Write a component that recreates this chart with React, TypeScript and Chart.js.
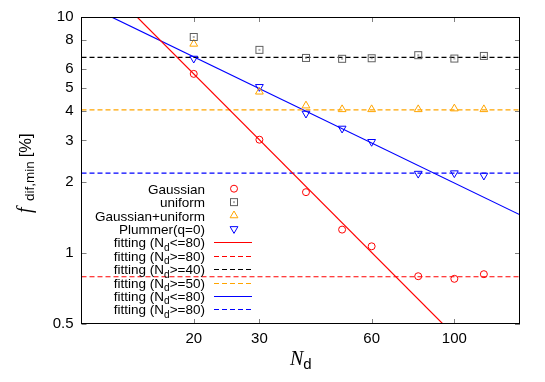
import React, { useEffect, useRef } from "react";
import { Chart, registerables } from "chart.js";

Chart.register(...registerables);

// ---- data ----
const nd = [20, 30, 40, 50, 60, 80, 100, 120];
const gaussian = [5.74, 3.02, 1.81, 1.256, 1.067, 0.797, 0.777, 0.813];
const uniform = [8.23, 7.26, 6.71, 6.65, 6.69, 6.89, 6.67, 6.84];
const gaussUniform = [7.69, 4.82, 4.21, 4.06, 4.06, 4.06, 4.09, 4.06];
const plummer = [6.67, 5.06, 3.9, 3.37, 2.96, 2.17, 2.18, 2.13];

const xTicks = [20, 30, 60, 100];
const yTicks = [0.5, 1, 2, 3, 4, 5, 6, 8, 10];
const xMin = 10;
const xMax = 150;
const yMin = 0.5;
const yMax = 10;

// fit parameters: f = amp * N^exp, or constant
const gaussPowAmp = 663.3;
const gaussPowExp = -1.5856;
const gaussFlat = 0.793;
const uniformFlat = 6.74;
const gaussUniformFlat = 4.04;
const plummerPowAmp = 67.06;
const plummerPowExp = -0.765;
const plummerFlat = 2.18;

const seriesLabels = ["Gaussian", "uniform", "Gaussian+uniform", "Plummer(q=0)"];
const fitLabels = [
  "fitting (N_d<=80)",
  "fitting (N_d>=80)",
  "fitting (N_d>=40)",
  "fitting (N_d>=50)",
  "fitting (N_d<=80)",
  "fitting (N_d>=80)",
];

const RED = "#ff0000";
const GRAY = "#606060";
const BLACK = "#000000";
const ORANGE = "#ffa500";
const BLUE = "#0000ff";
const SANS = "'Liberation Sans', Arial, Helvetica, sans-serif";
const SERIF = "'Liberation Serif', 'Times New Roman', serif";
const DASH = [5, 3];

const pts = (arr: number[]) => nd.map((x, i) => ({ x, y: arr[i] }));
const powLine = (amp: number, exp: number) =>
  [xMin, xMax].map((x) => ({ x, y: amp * Math.pow(x, exp) }));
const flatLine = (c: number) => [xMin, xMax].map((x) => ({ x, y: c }));

function makeSquare(color: string): HTMLCanvasElement {
  const c = document.createElement("canvas");
  c.width = 10;
  c.height = 10;
  const g = c.getContext("2d")!;
  g.strokeStyle = color;
  g.lineWidth = 1;
  g.strokeRect(1.5, 1.5, 7, 7);
  g.fillStyle = color;
  g.globalAlpha = 0.5;
  g.fillRect(4, 4, 2, 2);
  return c;
}

function drawMarker(ctx: CanvasRenderingContext2D, ds: any, x: number, y: number) {
  const style = ds.pointStyle;
  ctx.save();
  ctx.strokeStyle = ds.borderColor;
  ctx.lineWidth = 1;
  if (typeof style !== "string") {
    ctx.drawImage(style, x - style.width / 2, y - style.height / 2);
  } else if (style === "circle") {
    ctx.beginPath();
    ctx.arc(x, y, ds.pointRadius, 0, Math.PI * 2);
    ctx.stroke();
  } else if (style === "triangle") {
    const r = ds.pointRadius;
    let a = ((ds.pointRotation || 0) * Math.PI) / 180;
    ctx.beginPath();
    for (let k = 0; k < 3; k++) {
      const px = x + Math.sin(a) * r;
      const py = y - Math.cos(a) * r;
      if (k === 0) ctx.moveTo(px, py);
      else ctx.lineTo(px, py);
      a += (2 * Math.PI) / 3;
    }
    ctx.closePath();
    ctx.stroke();
  }
  ctx.restore();
}

function drawRich(ctx: CanvasRenderingContext2D, text: string, xRight: number, baseY: number, size: number) {
  const parts = text.split("_d");
  const subSize = size * 0.75;
  ctx.font = `${size}px ${SANS}`;
  const w0 = ctx.measureText(parts[0]).width;
  const w2 = parts.length > 1 ? ctx.measureText(parts[1]).width : 0;
  ctx.font = `${subSize}px ${SANS}`;
  const w1 = parts.length > 1 ? ctx.measureText("d").width : 0;
  let x = xRight - (w0 + w1 + w2);
  ctx.textAlign = "left";
  ctx.textBaseline = "alphabetic";
  ctx.font = `${size}px ${SANS}`;
  ctx.fillText(parts[0], x, baseY);
  if (parts.length > 1) {
    x += w0;
    ctx.font = `${subSize}px ${SANS}`;
    ctx.fillText("d", x, baseY + 3.5);
    x += w1;
    ctx.font = `${size}px ${SANS}`;
    ctx.fillText(parts[1], x, baseY);
  }
}

const decoPlugin = {
  id: "deco",
  afterDraw(chart: any) {
    const ctx: CanvasRenderingContext2D = chart.ctx;
    const a = chart.chartArea;
    const xs = chart.scales.x;
    const ys = chart.scales.y;
    ctx.save();
    // tick marks (inside, mirrored)
    ctx.strokeStyle = "#808080";
    ctx.lineWidth = 1;
    ctx.beginPath();
    for (const v of yTicks) {
      const y = Math.round(ys.getPixelForValue(v)) + 0.5;
      ctx.moveTo(a.left, y);
      ctx.lineTo(a.left + 5, y);
      ctx.moveTo(a.right, y);
      ctx.lineTo(a.right - 5, y);
    }
    for (const v of xTicks) {
      const x = Math.round(xs.getPixelForValue(v)) + 0.5;
      ctx.moveTo(x, a.bottom);
      ctx.lineTo(x, a.bottom - 5);
      ctx.moveTo(x, a.top);
      ctx.lineTo(x, a.top + 5);
    }
    ctx.stroke();
    // frame
    const x0 = Math.floor(a.left) + 0.5;
    const y0 = Math.floor(a.top) + 0.5;
    const x1 = Math.ceil(a.right) - 0.5;
    const y1 = Math.ceil(a.bottom) - 0.5;
    ctx.strokeStyle = BLACK;
    ctx.strokeRect(x0, y0, x1 - x0, y1 - y0);

    // legend
    const rowY0 = 188.7;
    const rowStep = 13.4;
    const textRight = 205;
    const sampleL = 214;
    const sampleR = 252;
    const markX = 234;
    ctx.fillStyle = BLACK;
    chart.data.datasets.forEach((ds: any, i: number) => {
      const y = rowY0 + i * rowStep;
      drawRich(ctx, ds.label, textRight, y + 5, 13.5);
      if (ds.showLine) {
        ctx.save();
        ctx.strokeStyle = ds.borderColor;
        ctx.lineWidth = ds.borderWidth;
        ctx.setLineDash(ds.borderDash || []);
        ctx.beginPath();
        ctx.moveTo(sampleL, Math.round(y) + 0.5);
        ctx.lineTo(sampleR, Math.round(y) + 0.5);
        ctx.stroke();
        ctx.restore();
      } else {
        drawMarker(ctx, ds, markX, y);
      }
    });

    // x title: N_d
    ctx.fillStyle = BLACK;
    ctx.textBaseline = "alphabetic";
    ctx.textAlign = "left";
    ctx.font = `italic 20px ${SERIF}`;
    const wN = ctx.measureText("N").width;
    ctx.font = `15px ${SANS}`;
    const wd = ctx.measureText("d").width;
    const cx = (a.left + a.right) / 2;
    let tx = cx - (wN + wd) / 2;
    ctx.font = `italic 20px ${SERIF}`;
    ctx.fillText("N", tx, 365);
    ctx.font = `15px ${SANS}`;
    ctx.fillText("d", tx + wN, 368.5);

    // y title: f_dif,min [%]
    ctx.save();
    ctx.translate(31, 214);
    ctx.rotate(-Math.PI / 2);
    ctx.font = `italic 20px ${SERIF}`;
    ctx.fillText("f", 1, 0);
    ctx.font = `13.5px ${SANS}`;
    ctx.fillText("dif,min", 13, 3);
    const ws = ctx.measureText("dif,min").width;
    ctx.font = `16.5px ${SANS}`;
    ctx.fillText("[%]", 13 + ws + 4, 0);
    ctx.restore();

    ctx.restore();
  },
};

export default function App() {
  const ref = useRef<HTMLCanvasElement | null>(null);
  useEffect(() => {
    const canvas = ref.current;
    if (!canvas) return;
    const square = makeSquare(GRAY);
    const scatter = (label: string, arr: number[], color: string, extra: any) => ({
      label,
      data: pts(arr),
      showLine: false,
      borderColor: color,
      backgroundColor: "transparent",
      pointBorderWidth: 1,
      pointBackgroundColor: "transparent",
      pointBorderColor: color,
      ...extra,
    });
    const line = (label: string, data: any[], color: string, dash: number[]) => ({
      label,
      data,
      showLine: true,
      borderColor: color,
      borderWidth: 1.2,
      borderDash: dash,
      pointRadius: 0,
      fill: false,
    });
    const chart = new Chart(canvas, {
      type: "scatter",
      data: {
        datasets: [
          scatter(seriesLabels[0], gaussian, RED, { pointStyle: "circle", pointRadius: 3.5 }),
          scatter(seriesLabels[1], uniform, GRAY, { pointStyle: square, pointRadius: 5 }),
          scatter(seriesLabels[2], gaussUniform, ORANGE, { pointStyle: "triangle", pointRadius: 4.5 }),
          scatter(seriesLabels[3], plummer, BLUE, { pointStyle: "triangle", pointRadius: 4.5, pointRotation: 180 }),
          line(fitLabels[0], powLine(gaussPowAmp, gaussPowExp), RED, []),
          line(fitLabels[1], flatLine(gaussFlat), RED, DASH),
          line(fitLabels[2], flatLine(uniformFlat), BLACK, DASH),
          line(fitLabels[3], flatLine(gaussUniformFlat), ORANGE, DASH),
          line(fitLabels[4], powLine(plummerPowAmp, plummerPowExp), BLUE, []),
          line(fitLabels[5], flatLine(plummerFlat), BLUE, DASH),
        ] as any,
      },
      options: {
        responsive: false,
        devicePixelRatio: 1,
        animation: false,
        layout: { padding: { left: 0, right: 25, top: 16, bottom: 0 } },
        plugins: { legend: { display: false }, tooltip: { enabled: false } },
        scales: {
          x: {
            type: "logarithmic",
            min: xMin,
            max: xMax,
            grid: { display: false, drawTicks: false },
            border: { display: false },
            afterBuildTicks: (s: any) => {
              s.ticks = xTicks.map((v) => ({ value: v }));
            },
            afterFit: (s: any) => {
              s.height = 58;
            },
            ticks: {
              autoSkip: false,
              maxRotation: 0,
              padding: 6,
              color: BLACK,
              font: { family: SANS, size: 15 },
              callback: (v: any) => String(v),
            },
          },
          y: {
            type: "logarithmic",
            min: yMin,
            max: yMax,
            grid: { display: false, drawTicks: false },
            border: { display: false },
            afterBuildTicks: (s: any) => {
              s.ticks = yTicks.map((v) => ({ value: v }));
            },
            afterFit: (s: any) => {
              s.width = 81.5;
            },
            ticks: {
              autoSkip: false,
              padding: 8,
              color: BLACK,
              font: { family: SANS, size: 15 },
              callback: (v: any) => String(v),
            },
          },
        },
      } as any,
      plugins: [decoPlugin],
    });
    return () => chart.destroy();
  }, []);
  return (
    <div style={{ position: "fixed", left: 0, top: 0, width: 545, height: 382, background: "#fff" }}>
      <canvas ref={ref} width={545} height={382} style={{ display: "block" }} />
    </div>
  );
}
